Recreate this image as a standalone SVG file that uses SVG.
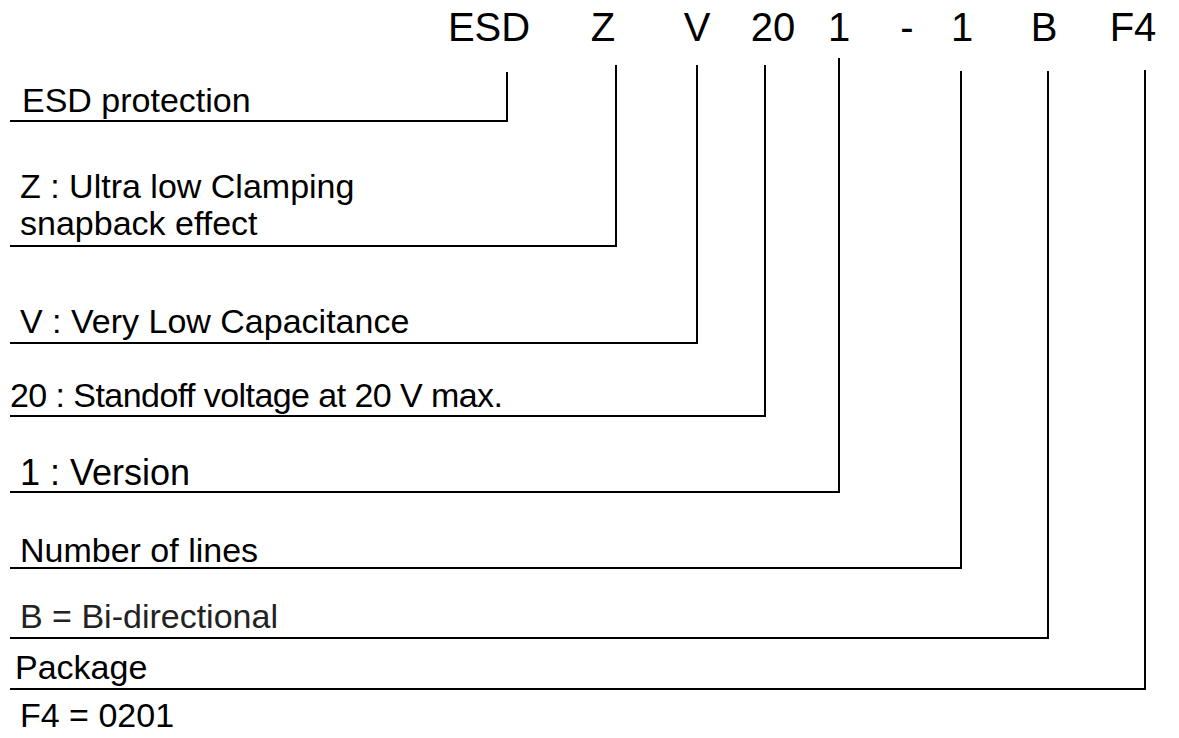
<svg xmlns="http://www.w3.org/2000/svg" width="1179" height="738" viewBox="0 0 1179 738">
<style>
text{font-family:"Liberation Sans",Arial,sans-serif;fill:#000}
.top{font-size:40px;text-anchor:middle}
.lbl{font-size:34px}
.ln{fill:none;stroke:#000;stroke-width:2}
</style>
<rect width="1179" height="738" fill="#fff"/>
<g id="code">
<text class="top" x="489" y="41">ESD</text>
<text class="top" x="603" y="41">Z</text>
<text class="top" x="697" y="41">V</text>
<text class="top" x="773" y="41">20</text>
<text class="top" x="839" y="41">1</text>
<text class="top" x="907" y="41">-</text>
<text class="top" x="962" y="41">1</text>
<text class="top" x="1044" y="41">B</text>
<text class="top" x="1133" y="41">F4</text>
</g>
<g id="connectors">
<polyline class="ln" points="507,72 507,121 10,121"/>
<polyline class="ln" points="616,65 616,246 10,246"/>
<polyline class="ln" points="697,65 697,343 10,343"/>
<polyline class="ln" points="765,65 765,416 10,416"/>
<polyline class="ln" points="839,58 839,492 10,492"/>
<polyline class="ln" points="961,71 961,568 10,568"/>
<polyline class="ln" points="1048,71 1048,638 10,638"/>
<polyline class="ln" points="1145,70 1145,689 10,689"/>
</g>
<g id="n-esd"><text class="lbl" x="22" y="112">ESD protection</text></g>
<g id="n-z"><text class="lbl" x="20" y="198">Z : Ultra low Clamping</text><text class="lbl" x="20" y="235">snapback effect</text></g>
<g id="n-v"><text class="lbl" x="20" y="333">V : Very Low Capacitance</text></g>
<g id="n-20"><text class="lbl" x="10" y="407" textLength="493" lengthAdjust="spacing">20 : Standoff voltage at 20 V max.</text></g>
<g id="n-1"><text class="lbl" x="20" y="485" style="font-size:36px">1 : Version</text></g>
<g id="n-lines"><text class="lbl" x="20" y="562">Number of lines</text></g>
<g id="n-b"><text class="lbl" x="20" y="628" style="fill:#222">B = Bi-directional</text></g>
<g id="n-pkg"><text class="lbl" x="15" y="679">Package</text><text class="lbl" x="20" y="727">F4 = 0201</text></g>
</svg>
